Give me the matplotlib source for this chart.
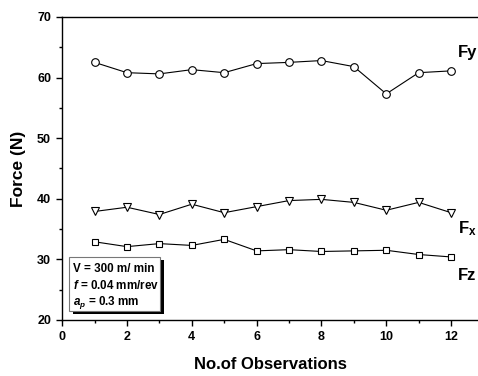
import matplotlib.pyplot as plt
from matplotlib.patches import Rectangle
from matplotlib.ticker import MultipleLocator

plt.rcParams['font.family'] = 'Liberation Sans'
plt.rcParams['font.weight'] = 'bold'
plt.rcParams['mathtext.fontset'] = 'custom'
plt.rcParams['mathtext.rm'] = 'Liberation Sans:bold'
plt.rcParams['mathtext.bf'] = 'Liberation Sans:bold'
plt.rcParams['mathtext.it'] = 'Liberation Sans:italic:bold'

# data
obs = [1, 2, 3, 4, 5, 6, 7, 8, 9, 10, 11, 12]
fy = [62.5, 60.8, 60.6, 61.3, 60.8, 62.3, 62.5, 62.8, 61.8, 57.3, 60.8, 61.1]
fx = [37.9, 38.6, 37.4, 39.1, 37.7, 38.7, 39.7, 39.9, 39.4, 38.1, 39.4, 37.7]
fz = [32.9, 32.1, 32.6, 32.3, 33.3, 31.4, 31.6, 31.3, 31.4, 31.5, 30.8, 30.4]

fig = plt.figure(figsize=(4.78, 3.76), dpi=100)
ax = fig.add_axes([0.130, 0.149, 0.870, 0.806])

ax.plot(obs, fy, color='black', lw=0.8, marker='o', ms=5.5, mfc='white', mec='black', mew=0.8)
ax.plot(obs, fx, color='black', lw=0.8, marker='v', ms=6, mfc='white', mec='black', mew=0.8)
ax.plot(obs, fz, color='black', lw=0.8, marker='s', ms=3.8, mfc='white', mec='black', mew=0.8)

ax.set_xlim(0, 12.83)
ax.set_ylim(20, 70)
ax.xaxis.set_major_locator(MultipleLocator(2))
ax.xaxis.set_minor_locator(MultipleLocator(1))
ax.yaxis.set_major_locator(MultipleLocator(10))
ax.yaxis.set_minor_locator(MultipleLocator(5))
ax.tick_params(which='major', length=4, width=1, labelsize=9, pad=4)
ax.tick_params(which='minor', length=2.5, width=1)
ax.spines['right'].set_visible(False)
for s in ['left', 'bottom', 'top']:
    ax.spines[s].set_linewidth(1)

ax.set_xlabel('No.of Observations', fontsize=12, fontweight='bold', labelpad=10)
ax.set_ylabel('Force (N)', fontsize=12.5, fontweight='bold', labelpad=8)

ax.text(12.22, 64.2, 'Fy', fontsize=12, fontweight='bold', va='center')
ax.text(12.22, 35.0, r'F$_\mathrm{x}$', fontsize=12, fontweight='bold', va='center')
ax.text(12.22, 27.4, 'Fz', fontsize=12, fontweight='bold', va='center')

# parameter box with shadow
ax.add_patch(Rectangle((0.34, 21.0), 2.80, 8.9, facecolor='black', edgecolor='none', zorder=3))
ax.add_patch(Rectangle((0.22, 21.5), 2.80, 8.9, facecolor='white', edgecolor='#777777', lw=0.8, zorder=4))
ax.text(0.35, 28.4, 'V = 300 m/ min', fontsize=8.4, fontweight='bold', va='center', zorder=5)
ax.text(0.35, 25.7, r'$f$ = 0.04 mm/rev', fontsize=8.4, fontweight='bold', va='center', zorder=5)
ax.text(0.35, 22.9, r'$a_p$ = 0.3 mm', fontsize=8.4, fontweight='bold', va='center', zorder=5)

fig.savefig('out.png', dpi=100)
